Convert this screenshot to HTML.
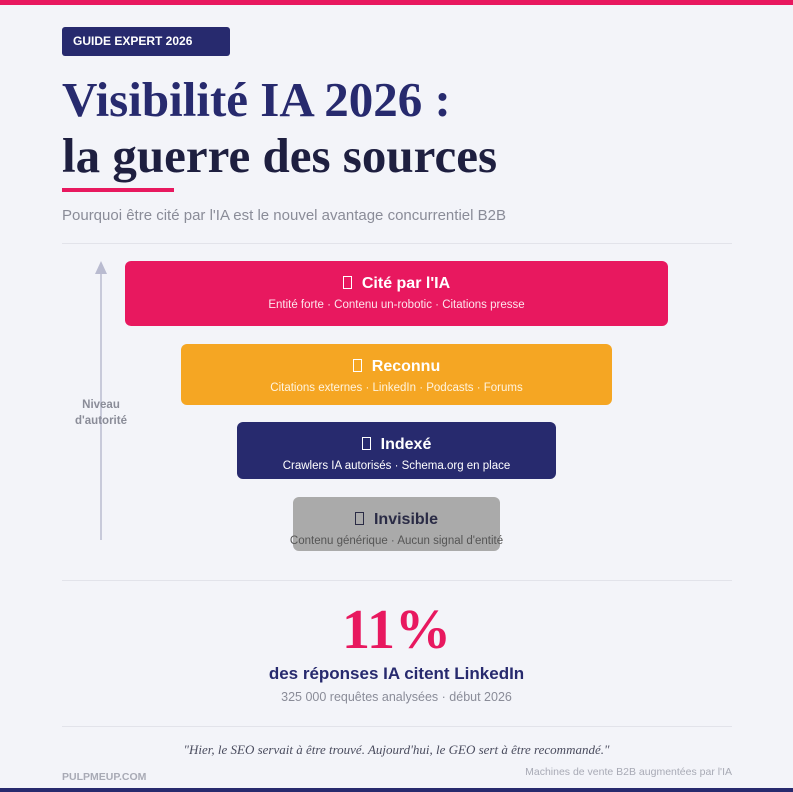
<!DOCTYPE html>
<html><head><meta charset="utf-8"><style>
*{margin:0;padding:0;box-sizing:border-box}
body{width:793px;height:792px;background:#f3f4f9;position:relative;overflow:hidden;font-family:"Liberation Sans",sans-serif}
.abs{position:absolute}
.tier{position:absolute;border-radius:6px;text-align:center;color:#fff}
.tier .t{font-weight:bold;font-size:16px;position:absolute;left:0;right:0}
.tier .s{font-size:11.5px;position:absolute;left:-20px;right:-20px;white-space:nowrap}
.box{display:inline-block;width:9px;height:13px;border:1.3px solid currentColor;margin-right:10px;vertical-align:-1px}
</style></head><body>
<div class="abs" style="left:0;top:0;width:793px;height:5px;background:#e8185f"></div>
<div class="abs" style="left:62px;top:27px;width:168px;height:29px;background:#272a6e;border-radius:3px;color:#fff;font-size:12px;font-weight:bold;line-height:29px;padding-left:11px">GUIDE EXPERT 2026</div>
<div class="abs" style="left:62px;top:72px;font-family:'Liberation Serif',serif;font-weight:bold;font-size:49px;line-height:56px;color:#272a6e">Visibilité IA 2026 :<br><span style="color:#1e1f40">la guerre des sources</span></div>
<div class="abs" style="left:62px;top:188px;width:112px;height:4px;background:#e8185f"></div>
<div class="abs" style="left:62px;top:207px;font-size:15px;color:#8a8c98">Pourquoi être cité par l'IA est le nouvel avantage concurrentiel B2B</div>
<div class="abs" style="left:62px;top:243px;width:670px;height:1px;background:#e2e3ea"></div>
<svg class="abs" style="left:0;top:0" width="793" height="600">
<line x1="101" y1="270" x2="101" y2="540" stroke="#b9bbd0" stroke-width="1.5"/>
<polygon points="101,261 95,274 107,274" fill="#b9bbd0"/>
</svg>
<div class="abs" style="left:61px;top:397px;width:80px;text-align:center;font-size:11.5px;font-weight:bold;color:#8a8c98;line-height:16px">Niveau<br>d'autorité</div>
<div id="funnel"></div>
<div class="abs" style="left:62px;top:580px;width:670px;height:1px;background:#e2e3ea"></div>
<div class="abs" style="left:0;width:793px;top:598px;text-align:center;font-family:'Liberation Serif',serif;font-weight:bold;font-size:56px;line-height:64px;color:#e8185f">11%</div>
<div class="abs" style="left:0;width:793px;top:664px;text-align:center;font-weight:bold;font-size:17px;color:#272a6e">des réponses IA citent LinkedIn</div>
<div class="abs" style="left:0;width:793px;top:690px;text-align:center;font-size:12.5px;color:#8a8c98">325 000 requêtes analysées · début 2026</div>
<div class="abs" style="left:62px;top:726px;width:670px;height:1px;background:#e2e3ea"></div>
<div class="abs" style="left:0;width:793px;top:742px;text-align:center;font-family:'Liberation Serif',serif;font-style:italic;font-size:13px;color:#4a4c5e">"Hier, le SEO servait à être trouvé. Aujourd'hui, le GEO sert à être recommandé."</div>
<div class="abs" style="left:62px;top:771px;font-size:10.5px;font-weight:bold;color:#a8aab5">PULPMEUP.COM</div>
<div class="abs" style="right:61px;top:766px;font-size:10.5px;color:#a8aab5">Machines de vente B2B augmentées par l'IA</div>
<div class="abs" style="left:0;top:788px;width:793px;height:4px;background:#272a6e"></div>
<script>
const tierNames=["Cité par l'IA","Reconnu","Indexé","Invisible"];
const tierDetails=["Entité forte · Contenu un-robotic · Citations presse","Citations externes · LinkedIn · Podcasts · Forums","Crawlers IA autorisés · Schema.org en place","Contenu générique · Aucun signal d'entité"];
const tierColors=["#e8185f","#f5a623","#272a6e","#aaaaaa"];
const tierText=["#fff","#fff","#fff","#2a2b45"];
const tierSubText=["#fde4ec","#fff4df","#fff","#555"];
const tierLeft=[125,181,237,293],tierTop=[261,344,422,497],tierW=[543,431,319,207],tierH=[65,61,57,54];
const f=document.getElementById('funnel');
tierNames.forEach((n,i)=>{
 const d=document.createElement('div');
 d.className='tier';
 
 
 d.style.cssText=`left:${tierLeft[i]}px;top:${tierTop[i]}px;width:${tierW[i]}px;height:${tierH[i]}px;background:${tierColors[i]};color:${tierText[i]}`;
 d.innerHTML=`<div class="t" style="top:14px"><span class="box"></span>${n}</div><div class="s" style="top:38px;color:${tierSubText[i]}">${tierDetails[i]}</div>`;
 f.appendChild(d);
});
</script>
</body></html>
